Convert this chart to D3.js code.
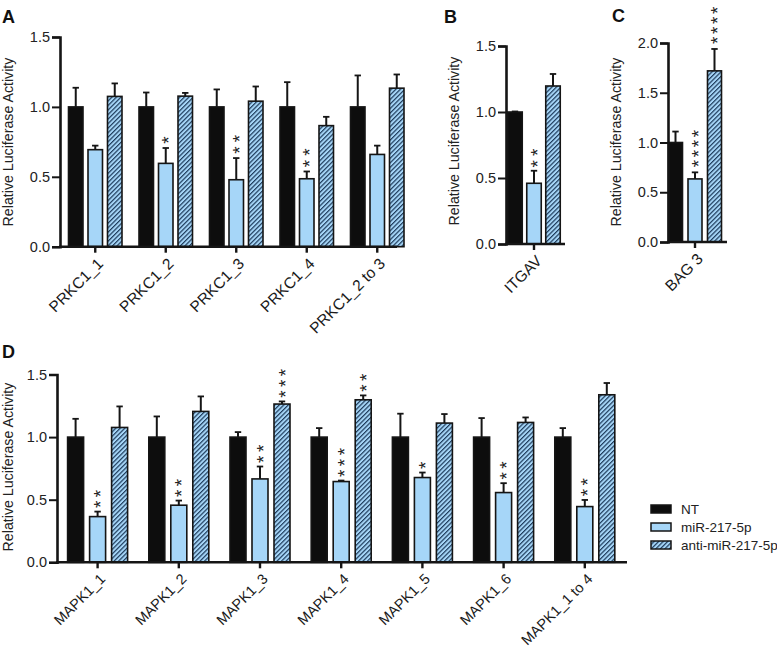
<!DOCTYPE html>
<html><head><meta charset="utf-8">
<script src="https://cdn.jsdelivr.net/npm/d3@7"></script>
<style>body{margin:0;background:#fff}svg{display:block}text{font-family:"Liberation Sans",Arial,sans-serif}</style>
</head><body><svg id="c" width="777" height="650"></svg>
<script>
// ---------- DATA ----------
const series = ["NT", "miR-217-5p", "anti-miR-217-5p"];

const catsA = ["PRKC1_1", "PRKC1_2", "PRKC1_3", "PRKC1_4", "PRKC1_2 to 3"];
const ntA   = [1.0, 1.0, 1.0, 1.0, 1.0];
const ntErrA = [0.137, 0.103, 0.125, 0.177, 0.225];
const mirA  = [0.694, 0.596, 0.479, 0.486, 0.660];
const mirErrA = [0.029, 0.110, 0.155, 0.052, 0.063];
const antiA = [1.075, 1.077, 1.041, 0.866, 1.134];
const antiErrA = [0.093, 0.023, 0.105, 0.063, 0.098];
const mirSigA = ["", "*", "**", "**", ""];
const antiSigA = ["", "", "", "", ""];

const catsB = ["ITGAV"];
const ntB = [1.0], ntErrB = [0.004];
const mirB = [0.46], mirErrB = [0.095];
const antiB = [1.197], antiErrB = [0.091];
const mirSigB = ["**"], antiSigB = [""];

const catsC = ["BAG 3"];
const ntC = [1.0], ntErrC = [0.11];
const mirC = [0.634], mirErrC = [0.066];
const antiC = [1.72], antiErrC = [0.22];
const mirSigC = ["****"], antiSigC = ["****"];

const catsD = ["MAPK1_1", "MAPK1_2", "MAPK1_3", "MAPK1_4", "MAPK1_5", "MAPK1_6", "MAPK1_1 to 4"];
const ntD = [1, 1, 1, 1, 1, 1, 1];
const ntErrD = [0.146, 0.165, 0.040, 0.072, 0.187, 0.152, 0.072];
const mirD = [0.365, 0.456, 0.666, 0.645, 0.677, 0.557, 0.445];
const mirErrD = [0.040, 0.037, 0.099, 0.008, 0.040, 0.075, 0.053];
const antiD = [1.077, 1.205, 1.264, 1.298, 1.112, 1.117, 1.338];
const antiErrD = [0.168, 0.120, 0.021, 0.035, 0.072, 0.040, 0.094];
const mirSigD = ["**", "**", "**", "***", "*", "**", "**"];
const antiSigD = ["", "", "***", "**", "", "", ""];

const ticks15 = [0, 0.5, 1.0, 1.5];
const ticks20 = [0, 0.5, 1.0, 1.5, 2.0];
const yLabel = "Relative Luciferase Activity";

// ---------- DRAW ----------
const svg = d3.select("#c");
const BLUE = "#a6d6f8";
const INK = "#151515";
const defs = svg.append("defs");
const pat = defs.append("pattern").attr("id", "hatch").attr("patternUnits", "userSpaceOnUse")
  .attr("width", 3.2).attr("height", 3.2).attr("patternTransform", "rotate(45)");
pat.append("rect").attr("width", 3.2).attr("height", 3.2).attr("fill", BLUE);
pat.append("line").attr("x1", 0.6).attr("y1", 0).attr("x2", 0.6).attr("y2", 3.2)
  .attr("stroke", "#1f3c5c").attr("stroke-width", 1.2);
const fills = ["#0d0d0d", BLUE, "url(#hatch)"];

function panel(cfg) {
  const g = svg.append("g");
  const x = d3.scaleBand().domain(cfg.cats).range([cfg.x0, cfg.x0 + cfg.step * cfg.cats.length]);
  const inner = d3.scalePoint().domain(series).range([-cfg.off, cfg.off]);
  const y = d3.scaleLinear().domain([0, cfg.ymax]).range([cfg.y0, cfg.y1]);
  const vals = [cfg.nt, cfg.mir, cfg.anti];
  const errs = [cfg.ntErr, cfg.mirErr, cfg.antiErr];
  const sigs = [cfg.cats.map(() => ""), cfg.mirSig, cfg.antiSig];
  const bw = cfg.bw;
  const SF = 19; // star font size

  series.forEach((s, si) => {
    cfg.cats.forEach((c, ci) => {
      const cx = x(c) + x.bandwidth() / 2 + inner(s);
      const v = vals[si][ci], e = errs[si][ci];
      g.append("line").attr("x1", cx).attr("x2", cx).attr("y1", y(v)).attr("y2", y(v + e))
        .attr("stroke", INK).attr("stroke-width", 2);
      g.append("line").attr("x1", cx - 3.2).attr("x2", cx + 3.2).attr("y1", y(v + e)).attr("y2", y(v + e))
        .attr("stroke", INK).attr("stroke-width", 1.8);
      g.append("rect").attr("x", cx - bw / 2).attr("width", bw)
        .attr("y", y(v)).attr("height", y(0) - y(v))
        .attr("fill", fills[si]).attr("stroke", INK).attr("stroke-width", 1.6);
      const st = sigs[si][ci];
      if (st.length) {
        const yStart = y(v + e) - cfg.sgap + cfg.sstep / 2;
        const ls = cfg.sstep - 0.389 * SF;
        g.append("text")
          .attr("transform", `translate(${cx + 0.5 * SF},${yStart}) rotate(-90)`)
          .attr("font-size", SF).attr("letter-spacing", ls).attr("fill", "#222")
          .attr("x", 0).attr("y", 0).text(st);
      }
    });
  });

  const ya = d3.axisLeft(y).tickValues(cfg.ticks).tickFormat(d3.format(".1f")).tickSize(8).tickPadding(2);
  const yg = g.append("g").attr("transform", `translate(${cfg.x0},0)`).call(ya);
  yg.attr("font-size", null).attr("font-family", null);
  yg.select(".domain").attr("stroke", INK).attr("stroke-width", 2.6);
  yg.selectAll(".tick line").attr("stroke", INK).attr("stroke-width", 2);
  yg.selectAll(".tick text").attr("font-size", 14.5).attr("fill", "#222");

  const xa = d3.axisBottom(x).tickSize(6).tickFormat("");
  const xg = g.append("g").attr("transform", `translate(0,${cfg.y0})`).call(xa);
  xg.select(".domain").remove();
  xg.selectAll(".tick line").attr("stroke", INK).attr("stroke-width", 2.4);
  g.append("line").attr("x1", cfg.x0 - 1).attr("x2", cfg.xEnd).attr("y1", cfg.y0).attr("y2", cfg.y0)
    .attr("stroke", INK).attr("stroke-width", 2.6);
  cfg.cats.forEach(c => {
    const cx = x(c) + x.bandwidth() / 2;
    g.append("text").attr("transform", `translate(${cx + 5},${cfg.y0 + cfg.ldy}) rotate(-45)`)
      .attr("text-anchor", "end").attr("dy", "0.35em").attr("font-size", cfg.lfs).attr("fill", "#1a1a1a").text(c);
  });

  g.append("text").attr("transform", `translate(${cfg.labX},${cfg.labY}) rotate(-90)`)
    .attr("text-anchor", "middle").attr("font-size", 14.2).attr("fill", "#222").text(yLabel);
  g.append("text").attr("x", cfg.letX).attr("y", cfg.letY).attr("font-size", 18).attr("font-weight", "bold")
    .attr("fill", "#111").text(cfg.letter);
}

panel({cats: catsA, nt: ntA, ntErr: ntErrA, mir: mirA, mirErr: mirErrA, anti: antiA, antiErr: antiErrA,
  mirSig: mirSigA, antiSig: antiSigA, x0: 60, step: 70.5, off: 19.5, bw: 14.5, xEnd: 397,
  y0: 246.7, y1: 37, ymax: 1.5, ticks: ticks15, ldy: 14, lfs: 15.5, labX: 13, labY: 142, letter: "A", letX: 2, letY: 23,
  sgap: 10, sstep: 11.5});
panel({cats: catsB, nt: ntB, ntErr: ntErrB, mir: mirB, mirErr: mirErrB, anti: antiB, antiErr: antiErrB,
  mirSig: mirSigB, antiSig: antiSigB, x0: 506, step: 56, off: 19, bw: 14.5, xEnd: 565,
  y0: 244, y1: 46, ymax: 1.5, ticks: ticks15, ldy: 14, lfs: 15.5, labX: 459, labY: 141, letter: "B", letX: 444, letY: 23,
  sgap: 9, sstep: 11.5});
panel({cats: catsC, nt: ntC, ntErr: ntErrC, mir: mirC, mirErr: mirErrC, anti: antiC, antiErr: antiErrC,
  mirSig: mirSigC, antiSig: antiSigC, x0: 668, step: 54, off: 19.5, bw: 14, xEnd: 727,
  y0: 242, y1: 43, ymax: 2.0, ticks: ticks20, ldy: 14, lfs: 15.5, labX: 621, labY: 142, letter: "C", letX: 612, letY: 22,
  sgap: 10, sstep: 10});
panel({cats: catsD, nt: ntD, ntErr: ntErrD, mir: mirD, mirErr: mirErrD, anti: antiD, antiErr: antiErrD,
  mirSig: mirSigD, antiSig: antiSigD, x0: 57, step: 81.2, off: 22, bw: 16, xEnd: 627,
  y0: 562.3, y1: 374.5, ymax: 1.5, ticks: ticks15, ldy: 14, lfs: 14.5, labX: 13, labY: 467, letter: "D", letX: 2, letY: 358,
  sgap: 9, sstep: 10.8});

const leg = svg.append("g");
const legY = d3.scalePoint().domain(series).range([509, 545]);
series.forEach((s, i) => {
  leg.append("rect").attr("x", 651).attr("y", legY(s) - 4).attr("width", 20).attr("height", 8)
    .attr("fill", fills[i]).attr("stroke", INK).attr("stroke-width", 1.5);
  leg.append("text").attr("x", 681).attr("y", legY(s)).attr("dy", "0.36em").attr("font-size", 13.5)
    .attr("fill", "#222").text(s);
});
</script></body></html>
